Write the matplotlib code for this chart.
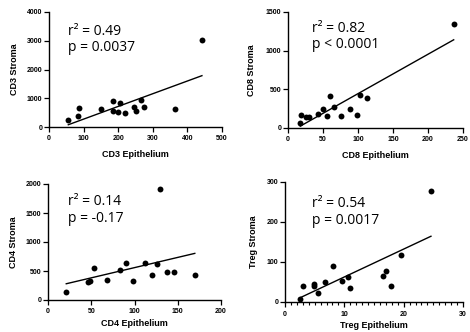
import numpy as np
import matplotlib
matplotlib.use("Agg")
import matplotlib.pyplot as plt
from matplotlib.ticker import MultipleLocator

# ---- data ----
cd3_epi = [55.8, 84.6, 87.5, 149, 185.6, 185.6, 200, 204.8, 221, 247, 251, 265, 275, 363, 442]
cd3_str = [231, 381, 659, 613, 913, 555, 509, 821, 474, 705, 543, 948, 694, 636, 3017]

cd8_epi = [17.6, 18.6, 25.7, 30.5, 42.9, 50, 55.7, 60, 65.7, 75.2, 89, 99, 102.9, 113.3, 236.7]
cd8_str = [69, 173, 138, 138, 177, 246, 156, 419, 272, 151, 251, 173, 432, 393, 1349]

cd4_epi = [21.1, 46.8, 48, 53.4, 68.7, 82.9, 89.8, 97.9, 112, 120.2, 125.9, 129.8, 137, 145.1, 169.7]
cd4_str = [144, 317, 334, 559, 340, 513, 634, 334, 640, 427, 628, 1914, 484, 484, 438]

treg_epi = [2.53, 2.98, 4.84, 4.9, 5.5, 6.8, 8.16, 9.57, 10.6, 10.9, 16.5, 16.99, 17.84, 19.5, 24.6]
treg_str = [8.4, 40.4, 44.7, 39.6, 22.7, 48.9, 90, 53, 63, 36, 65, 77, 40.4, 118, 277]

xlabels = ["CD3 Epithelium", "CD8 Epithelium", "CD4 Epithelium", "Treg Epithelium"]
ylabels = ["CD3 Stroma", "CD8 Stroma", "CD4 Stroma", "Treg Stroma"]
r2_texts = ["r\u00b2 = 0.49", "r\u00b2 = 0.82", "r\u00b2 = 0.14", "r\u00b2 = 0.54"]
p_texts = ["p = 0.0037", "p < 0.0001", "p = -0.17", "p = 0.0017"]
xlims = [500, 250, 200, 30]
ylims = [4000, 1500, 2000, 300]
xsteps = [100, 50, 50, 10]
ysteps = [1000, 500, 500, 100]

# ---- layout (pixels in a 470x332 figure) ----
W, H = 470, 332
boxes = [  # left, top, right, bottom in pixels
    (49, 12, 222, 127),
    (288, 12, 463, 128),
    (48, 184, 221, 300),
    (285, 182, 463, 302),
]
text_pos = [(0.11, 0.83, 0.69), (0.137, 0.86, 0.72), (0.116, 0.85, 0.70), (0.15, 0.82, 0.68)]
xlabelpads = [6.0, 5.5, 3.0, 2.4]
ylabelpads = [6.0, 7.0, 5.5, 6.5]
xtickpads = [2.3, 2.3, 2.3, 3.0]

fig = plt.figure(figsize=(W / 100, H / 100), dpi=100)
datasets = [(cd3_epi, cd3_str), (cd8_epi, cd8_str), (cd4_epi, cd4_str), (treg_epi, treg_str)]

for i, (xs, ys) in enumerate(datasets):
    l, t, r, b = boxes[i]
    ax = fig.add_axes([l / W, 1 - b / H, (r - l) / W, (b - t) / H])
    xs = np.asarray(xs, float)
    ys = np.asarray(ys, float)
    ax.scatter(xs, ys, s=18, color="black", zorder=3, linewidths=0, clip_on=False)
    k, c = np.polyfit(xs, ys, 1)
    xx = np.array([xs.min(), xs.max()])
    ax.plot(xx, k * xx + c, color="black", lw=1.0)
    ax.set_xlim(0, xlims[i])
    ax.set_ylim(0, ylims[i])
    ax.xaxis.set_major_locator(MultipleLocator(xsteps[i]))
    ax.yaxis.set_major_locator(MultipleLocator(ysteps[i]))
    if i == 3:
        ax.xaxis.set_minor_locator(MultipleLocator(1))
        ax.tick_params(axis="x", which="minor", length=2.2, width=0.8)
    for s in ("top", "right"):
        ax.spines[s].set_visible(False)
    for s in ("left", "bottom"):
        ax.spines[s].set_linewidth(1.0)
        ax.spines[s].set_color("black")
    ax.tick_params(which="major", length=3.5, width=0.9, labelsize=5)
    ax.tick_params(axis="y", which="major", pad=1.2)
    ax.tick_params(axis="x", which="major", pad=xtickpads[i])
    for lab in ax.get_xticklabels() + ax.get_yticklabels():
        lab.set_fontweight("bold")
        lab.set_family("Liberation Sans")
    ax.set_xlabel(xlabels[i], fontsize=6.5, fontweight="bold", family="Liberation Sans", labelpad=xlabelpads[i])
    ax.set_ylabel(ylabels[i], fontsize=6.5, fontweight="bold", family="Liberation Sans", labelpad=ylabelpads[i])
    tx, ty1, ty2 = text_pos[i]
    ax.text(tx, ty1, r2_texts[i], transform=ax.transAxes, fontsize=10, family="Open Sans", va="center", ha="left")
    ax.text(tx, ty2, p_texts[i], transform=ax.transAxes, fontsize=10, family="Open Sans", va="center", ha="left")

fig.savefig("out.png", dpi=100)
